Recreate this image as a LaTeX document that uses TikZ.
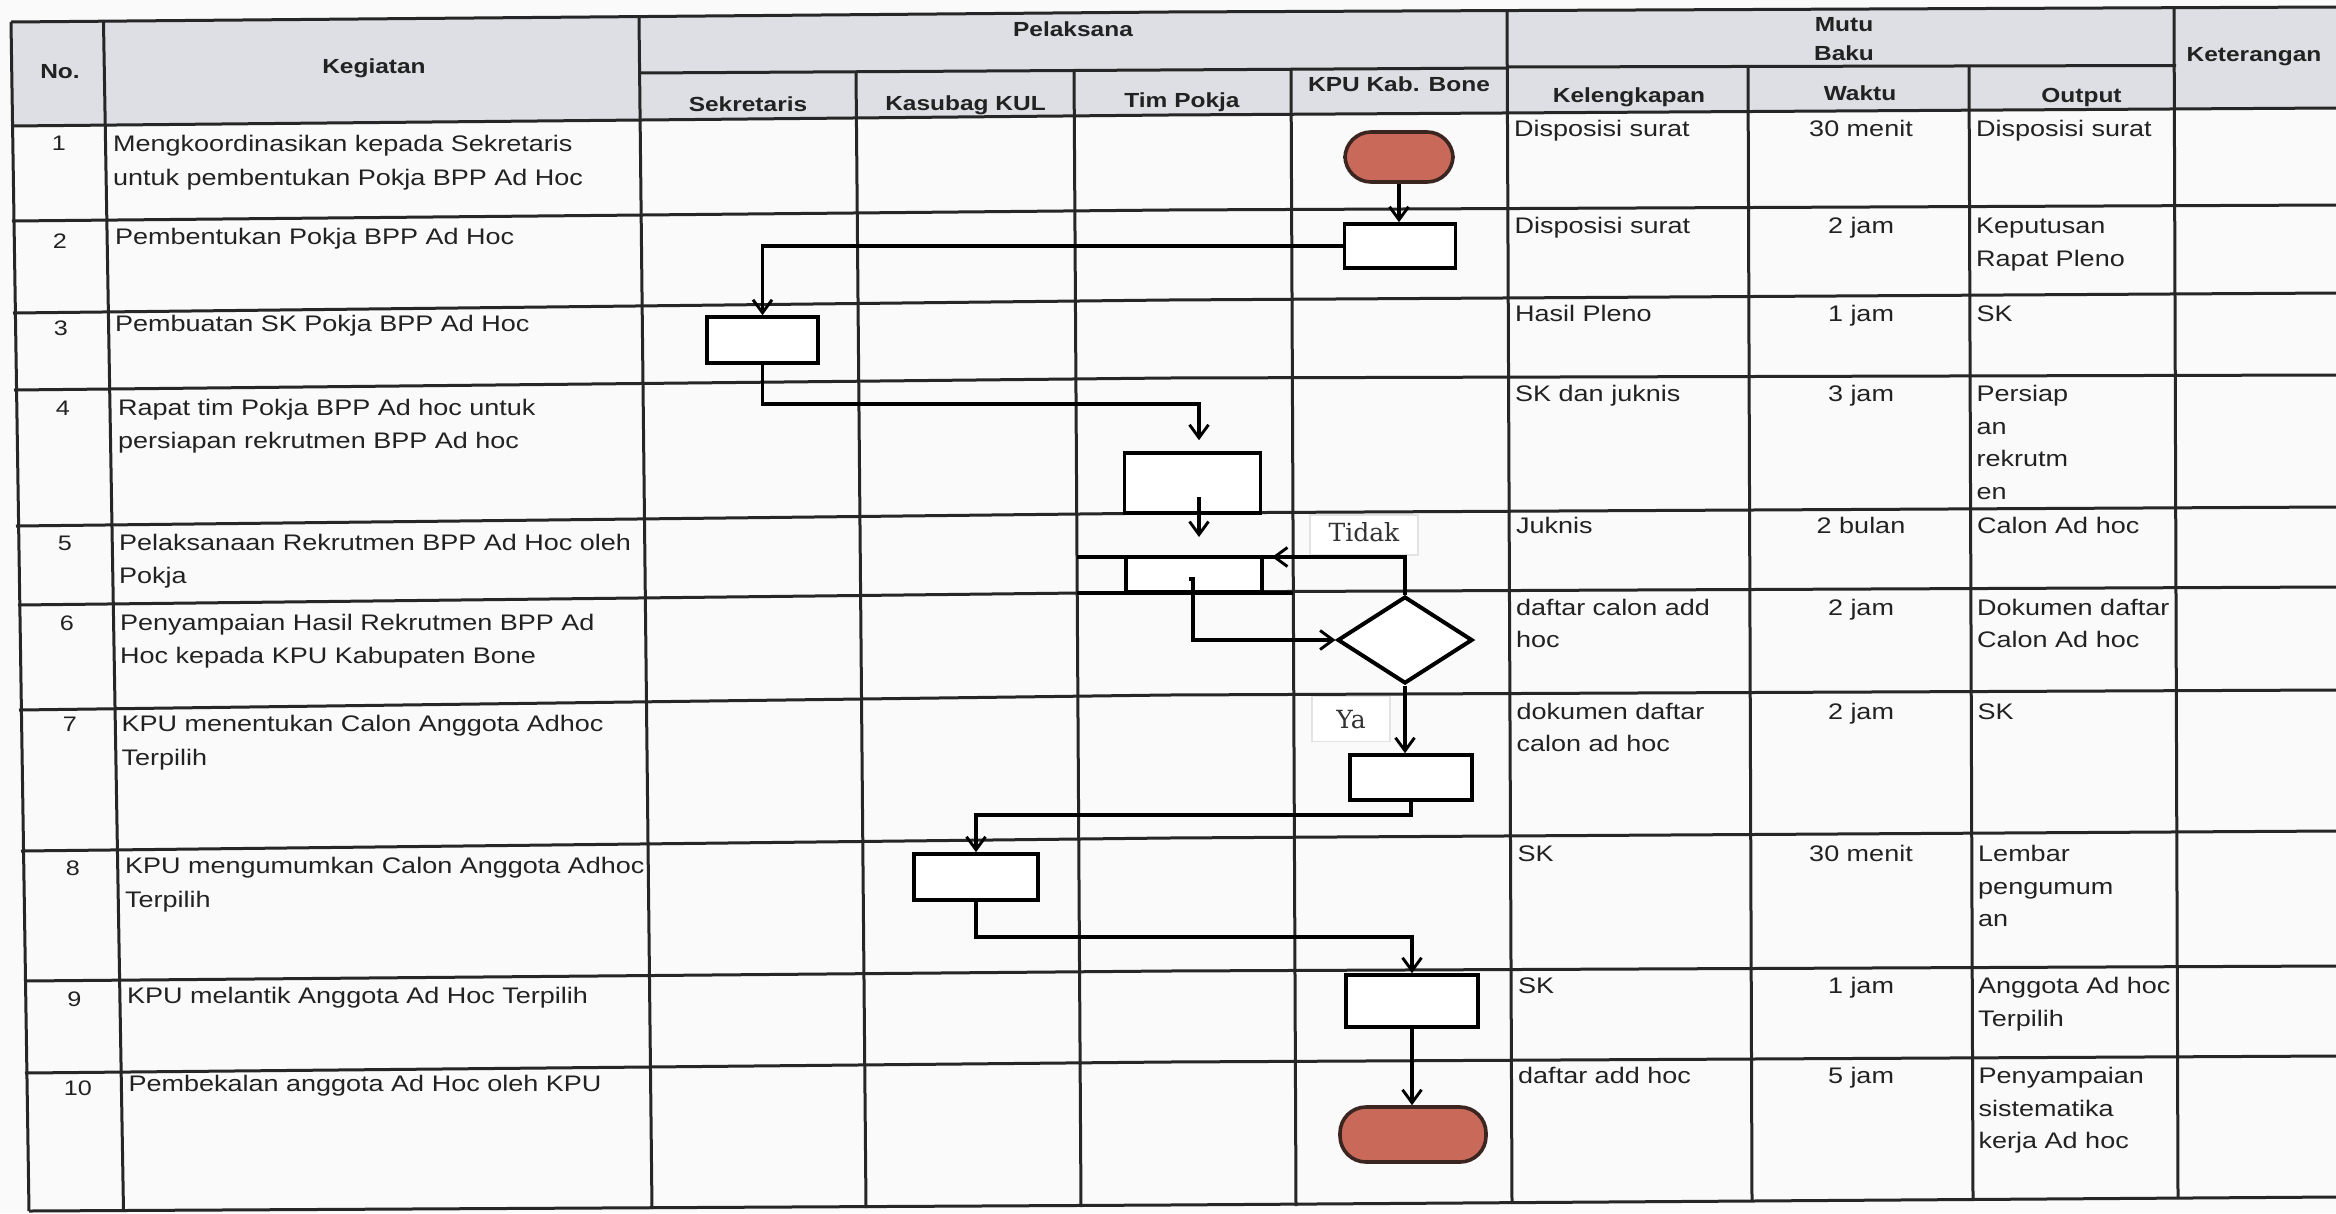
\documentclass[tikz,border=0pt]{standalone}
\usepackage{fontspec}
\setmainfont{Liberation Sans}[FakeStretch=1.2]
\newfontfamily\serifl{DejaVu Serif}
\usetikzlibrary{arrows.meta,shapes.geometric}
\definecolor{hdrfill}{HTML}{DEDFE4}
\definecolor{termfill}{HTML}{C8695A}
\definecolor{termline}{HTML}{3A2520}
\definecolor{gridc}{HTML}{262626}
\definecolor{txtc}{HTML}{222222}
\newcommand\Sx{\rule{0pt}{20pt}}
\begin{document}
\begin{tikzpicture}[x=1pt,y=-1pt,
  gridline/.style={draw=gridc,line width=3pt,line join=round},
  hd/.style={font=\fontsize{20.4}{24}\selectfont\bfseries,inner sep=0pt,anchor=base,text=txtc},
  bd/.style={font=\fontsize{22.5}{33.5}\selectfont,inner sep=0pt,anchor=north west,align=left,text=txtc},
  rc/.style={font=\fontsize{22.5}{32.5}\selectfont,inner sep=0pt,anchor=north west,align=left,text=txtc},
  wk/.style={font=\fontsize{22.5}{32.5}\selectfont,inner sep=0pt,anchor=base,text=txtc},
  num/.style={font=\fontsize{21}{24}\selectfont,inner sep=0pt,anchor=base,text=txtc},
  procbox/.style={draw=black,line width=3.6pt,fill=white,inner sep=0pt,rectangle},
  termbox/.style={draw=termline,line width=3.6pt,fill=termfill,inner sep=0pt,rectangle,rounded corners=26pt},
  decbox/.style={draw=black,line width=4pt,fill=white,inner sep=0pt,diamond},
  flow/.style={draw=black,line width=3.2pt},
  arr/.style={flow,-{Straight Barb[length=13pt,width=19pt,line width=2.9pt]}},
  lab/.style={draw=gray!22,line width=1.2pt,fill=white,inner sep=0pt,font=\serifl\fontsize{25}{30}\selectfont,text=black!80}
]
\useasboundingbox (0,0) rectangle (2336,1213);
\fill[white!98!black] (0,0) rectangle (2336,1213);
% header shading
\fill[hdrfill] (11,22) -- (1168,12) -- (2336,7) -- (2336,108) -- (1168,115) -- (11,126) -- cycle;

% horizontal table lines
\draw[gridline] (11,22) -- (1168,12) -- (2336,7);
\draw[gridline] (639,73) -- (1507,68);
\draw[gridline] (1507,67) -- (2176,65.5);
\draw[gridline] (11,126) -- (1168,115) -- (2336,108);
\draw[gridline] (12,221) -- (1168,210) -- (2336,205);
\draw[gridline] (13,313) -- (1168,300) -- (2336,293);
\draw[gridline] (14,390) -- (1168,378) -- (2336,375);
\draw[gridline] (16,526) -- (1168,513) -- (2336,507);
\draw[gridline] (18,605) -- (1168,592) -- (2336,587);
\draw[gridline] (19,710) -- (1168,695) -- (2336,690);
\draw[gridline] (21,851) -- (1168,838) -- (2336,831);
\draw[gridline] (24,981) -- (1168,971) -- (2336,966);
\draw[gridline] (25,1073) -- (1168,1062) -- (2336,1056);
\draw[gridline] (29,1211) -- (1168,1205) -- (2336,1197);
% vertical table lines
\draw[gridline] (11,22) -- (29,1211);
\draw[gridline] (103.5,22) -- (123.5,1211);
\draw[gridline] (639,18) -- (652,1209);
\draw[gridline] (856,72) -- (866,1208);
\draw[gridline] (1074,71) -- (1081,1207);
\draw[gridline] (1291,69) -- (1296,1206);
\draw[gridline] (1507,10) -- (1512,1203);
\draw[gridline] (1748,67) -- (1752,1201);
\draw[gridline] (1969,66) -- (1973,1199);
\draw[gridline] (2174,7) -- (2178,1198);

% header texts
\node[hd] (hNo) at (60,78) {No.};
\node[hd] (hKeg) at (374,73) {Kegiatan};
\node[hd] (hPel) at (1073,36) {Pelaksana};
\node[hd] (hSek) at (748,111.5) {Sekretaris};
\node[hd] (hKas) at (965.5,110.5) {Kasubag KUL};
\node[hd] (hTim) at (1182,107) {Tim Pokja};
\node[hd] (hKPU) at (1399,91.5) {KPU Kab. Bone};
\node[hd] (hMutu) at (1844,31.5) {Mutu};
\node[hd] (hBaku) at (1844,60) {Baku};
\node[hd] (hKel) at (1629,102) {Kelengkapan};
\node[hd] (hWak) at (1860,100) {Waktu};
\node[hd] (hOut) at (2081.5,102) {Output};
\node[hd] (hKet) at (2254,61) {Keterangan};

% numbers
\node[num] (n1) at (59,150.7) {1};
\node[num] (n2) at (60,248.3) {2};
\node[num] (n3) at (61,335) {3};
\node[num] (n4) at (63,415) {4};
\node[num] (n5) at (65,550) {5};
\node[num] (n6) at (67,630) {6};
\node[num] (n7) at (70,731.7) {7};
\node[num] (n8) at (73,875) {8};
\node[num] (n9) at (74.5,1006.7) {9};
\node[num] (n10) at (78,1095) {10};

% kegiatan
\node[bd] (k1) at (113,131.7) {\Sx Mengkoordinasikan kepada Sekretaris\\untuk pembentukan Pokja BPP Ad Hoc};
\node[bd] (k2) at (114.8,224) {\Sx Pembentukan Pokja BPP Ad Hoc};
\node[bd] (k3) at (115,311.7) {\Sx Pembuatan SK Pokja BPP Ad Hoc};
\node[bd] (k4) at (118,395) {\Sx Rapat tim Pokja BPP Ad hoc untuk\\persiapan rekrutmen BPP Ad hoc};
\node[bd] (k5) at (119,530) {\Sx Pelaksanaan Rekrutmen BPP Ad Hoc oleh\\Pokja};
\node[bd] (k6) at (120,610) {\Sx Penyampaian Hasil Rekrutmen BPP Ad\\Hoc kepada KPU Kabupaten Bone};
\node[bd] (k7) at (121.5,711.7) {\Sx KPU menentukan Calon Anggota Adhoc\\Terpilih};
\node[bd] (k8) at (125,853.3) {\Sx KPU mengumumkan Calon Anggota Adhoc\\Terpilih};
\node[bd] (k9) at (127,983.3) {\Sx KPU melantik Anggota Ad Hoc Terpilih};
\node[bd] (k10) at (128.4,1071.7) {\Sx Pembekalan anggota Ad Hoc oleh KPU};

% kelengkapan / waktu / output
\node[rc] (kl1) at (1514,116.7) {\Sx Disposisi surat};
\node[wk] (w1) at (1861,136.7) {30 menit};
\node[rc] (o1) at (1976,116.7) {\Sx Disposisi surat};
\node[rc] (kl2) at (1514.5,213.3) {\Sx Disposisi surat};
\node[wk] (w2) at (1861,233.3) {2 jam};
\node[rc] (o2) at (1976,213.3) {\Sx Keputusan\\Rapat Pleno};
\node[rc] (kl3) at (1515,301.7) {\Sx Hasil Pleno};
\node[wk] (w3) at (1861,321.7) {1 jam};
\node[rc] (o3) at (1976.5,301.7) {\Sx SK};
\node[rc] (kl4) at (1515,381.7) {\Sx SK dan juknis};
\node[wk] (w4) at (1861,401.7) {3 jam};
\node[rc] (o4) at (1976.5,381.7) {\Sx Persiap\\an\\rekrutm\\en};
\node[rc] (kl5) at (1516,513) {\Sx Juknis};
\node[wk] (w5) at (1861,533) {2 bulan};
\node[rc] (o5) at (1977,513) {\Sx Calon Ad hoc};
\node[rc] (kl6) at (1516,595) {\Sx daftar calon add\\hoc};
\node[wk] (w6) at (1861,615) {2 jam};
\node[rc] (o6) at (1977,595) {\Sx Dokumen daftar\\Calon Ad hoc};
\node[rc] (kl7) at (1516.5,699) {\Sx dokumen daftar\\calon ad hoc};
\node[wk] (w7) at (1861,719) {2 jam};
\node[rc] (o7) at (1977.5,699) {\Sx SK};
\node[rc] (kl8) at (1517.5,841.7) {\Sx SK};
\node[wk] (w8) at (1861,861.7) {30 menit};
\node[rc] (o8) at (1978,841.7) {\Sx Lembar\\pengumum\\an};
\node[rc] (kl9) at (1518,973.3) {\Sx SK};
\node[wk] (w9) at (1861,993.3) {1 jam};
\node[rc] (o9) at (1978,973.3) {\Sx Anggota Ad hoc\\Terpilih};
\node[rc] (kl10) at (1518,1063.3) {\Sx daftar add hoc};
\node[wk] (w10) at (1861,1083.3) {5 jam};
\node[rc] (o10) at (1978.5,1063.3) {\Sx Penyampaian\\sistematika\\kerja Ad hoc};

% decision labels
\node[lab,minimum width=108pt,minimum height=40pt,text height=19pt,text depth=5.6pt] (tidak) at (1364,535) {Tidak};
\node[lab,minimum width=78pt,minimum height=45pt,text height=19pt,text depth=0pt] (ya) at (1351,719) {Ya};

% flowchart nodes
\node[termbox,minimum width=108pt,minimum height=50pt] (t1) at (1399,157) {};
\node[procbox,minimum width=111pt,minimum height=44pt] (b2) at (1400,246) {};
\node[procbox,minimum width=111pt,minimum height=46pt] (b3) at (762.5,340) {};
\node[procbox,minimum width=136pt,minimum height=60pt] (b4) at (1192.5,483) {};
\node[procbox,minimum width=136pt,minimum height=35pt] (b5) at (1194,574.5) {};
\node[decbox,minimum width=135pt,minimum height=87pt] (dia) at (1405,640) {};
\node[procbox,minimum width=122pt,minimum height=45pt] (b7) at (1411,777.5) {};
\node[procbox,minimum width=124pt,minimum height=46pt] (b8) at (976,877) {};
\node[procbox,minimum width=132pt,minimum height=52pt] (b9) at (1412,1001) {};
\node[termbox,minimum width=146pt,minimum height=55pt] (t2) at (1413,1134.5) {};

% helper coordinates
\coordinate (c34) at (1199,404);
\coordinate (a2s) at (1199,497);
\coordinate (a2e) at (1199,537);
\coordinate (l5a) at (1077,557);
\coordinate (l5b) at (1293,557);
\coordinate (l6a) at (1077,593);
\coordinate (l6b) at (1293,593);
\coordinate (tdk) at (1272,557);
\coordinate (b5s) at (1193,579);
\coordinate (b5t) at (1189,579);
\coordinate (c78) at (1411,815);
\coordinate (c89) at (976,937);

% connectors
\draw[arr] (t1.south) -- (t1.south |- b2.north);
\draw[arr] (b2.west) -| (b3.north);
\draw[arr,shorten >=11pt] (b3.south) |- (c34) -- (c34 |- b4.north);
\draw[arr] (a2s) -- (a2e);
\draw[flow] (l5a) -- (l5b);
\draw[draw=black,line width=4.5pt] (l6a) -- (l6b);
\draw[arr] (dia.north) |- (tdk);
\draw[arr] (b5t) -- (b5s) |- (dia.west);
\draw[arr] (dia.south) -- (dia.south |- b7.north);
\draw[arr] (b7.south) -- (c78) -| (b8.north);
\draw[arr] (b8.south) -- (c89) -| (b9.north);
\draw[arr] (b9.south) -- (b9.south |- t2.north);
\end{tikzpicture}
\end{document}
